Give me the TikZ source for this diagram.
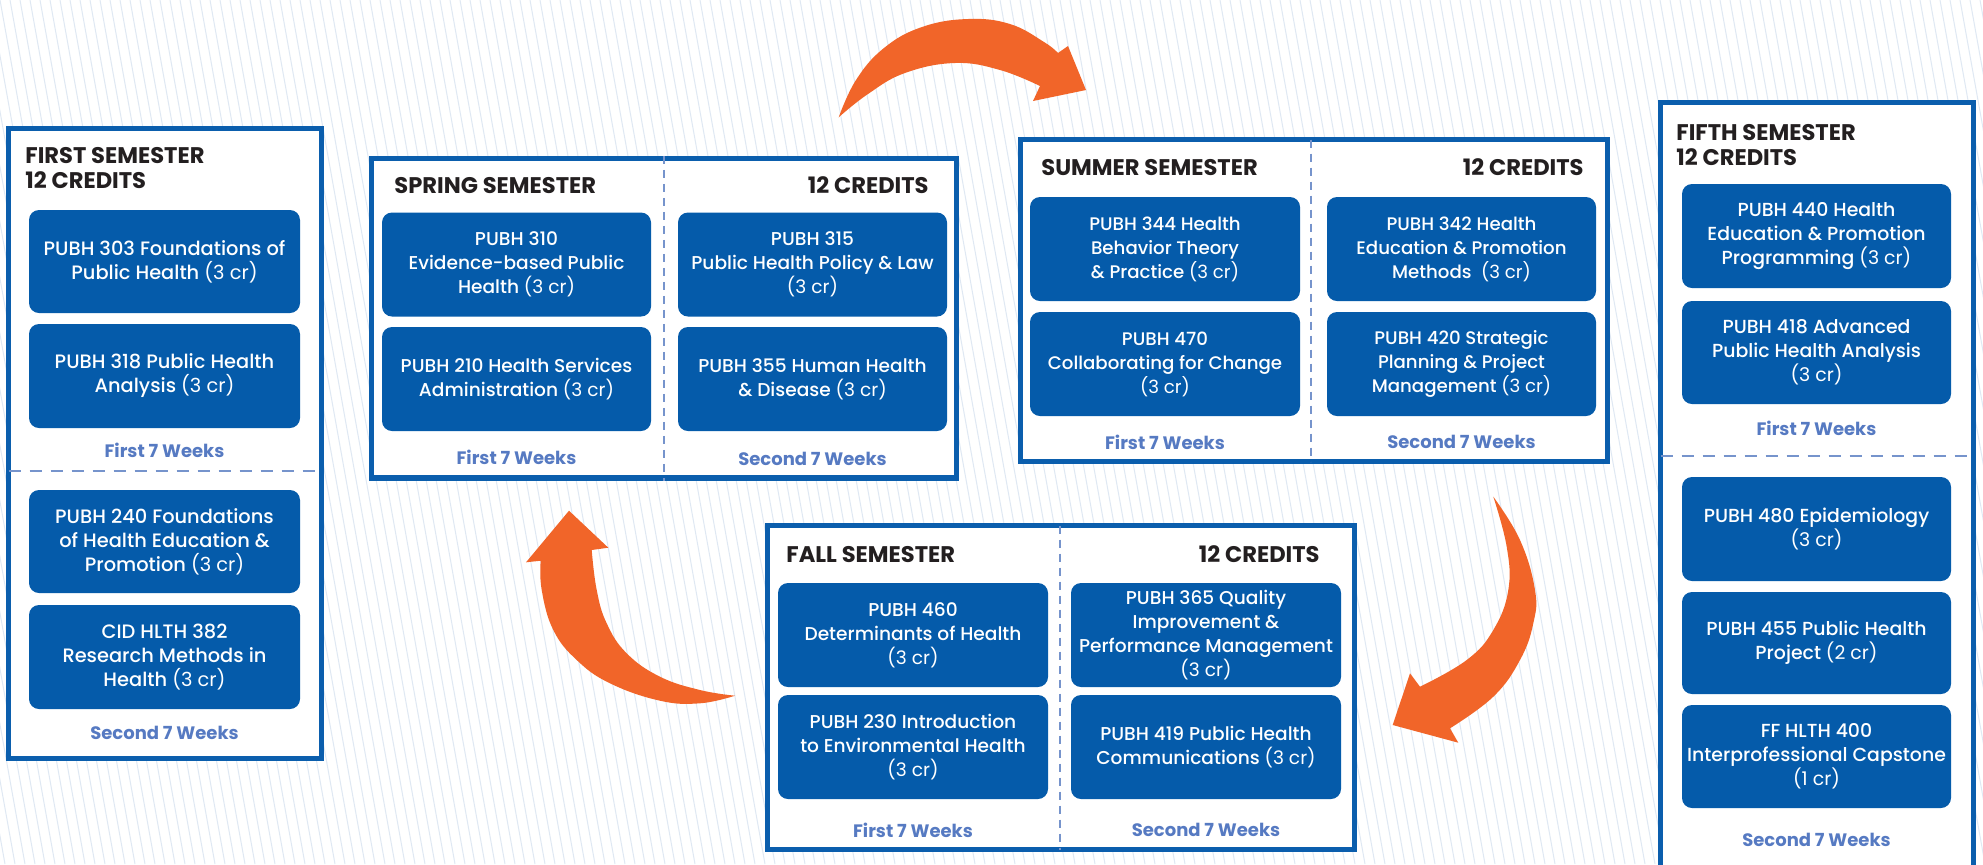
\documentclass[tikz,border=0pt]{standalone}
\usepackage{fontspec}
\setmainfont{Poppins}
\newfontfamily\medfont{Poppins Medium}
\newfontfamily\semifont{Poppins SemiBold}
\newfontfamily\regfont{Poppins}
\definecolor{boxblue}{RGB}{5,91,170}
\definecolor{frameblue}{RGB}{11,94,173}
\definecolor{weekblue}{RGB}{86,122,194}
\definecolor{dashblue}{RGB}{118,148,204}
\definecolor{titlec}{RGB}{35,31,32}
\definecolor{orangec}{RGB}{241,101,41}
\definecolor{stripec}{RGB}{223,232,243}
\newcommand\crd[1]{{\regfont(#1 cr)}}
\begin{document}
\begin{tikzpicture}[x=0.5pt,y=-0.5pt,
  stripe/.style={draw=stripec, line width=0.5pt},
  frame/.style={draw=frameblue, line width=2.6pt, fill=white, inner sep=0pt},
  course/.style={fill=boxblue, rounded corners=5pt, text=white, align=center, inner sep=0pt,
    font=\medfont\fontsize{9.3}{12}\selectfont},
  cfirst/.style={course, font=\medfont\fontsize{9.7}{12}\selectfont},
  csummer/.style={course, font=\medfont\fontsize{9.1}{12}\selectfont},
  cfifth/.style={course, font=\medfont\fontsize{9.45}{12}\selectfont},
  semtitle/.style={anchor=base west, inner sep=0pt, text=titlec, font=\bfseries\fontsize{11.3}{12}\selectfont},
  credit/.style={anchor=base east, inner sep=0pt, text=titlec, font=\bfseries\fontsize{11.3}{12}\selectfont},
  weeks/.style={inner sep=0pt, text=weekblue, font=\bfseries\fontsize{9}{10}\selectfont},
  vdiv/.style={draw=dashblue, line width=0.9pt, dash pattern=on 4pt off 3pt},
  hdiv/.style={draw=dashblue, line width=0.9pt, dash pattern=on 6pt off 4.5pt},
  arrowshape/.style={fill=orangec}
]
\clip (0,0) rectangle (1983,864);
\fill[white] (0,0) rectangle (1983,864);
\foreach \i in {-20,...,200} \draw[stripe] ({\i*10},0) -- ({\i*10+155},864);

% ---------- frames ----------
\node[frame, minimum width=156.5pt, minimum height=315pt] (first) at (165,443.5) {};
\node[frame, minimum width=292.5pt, minimum height=159.75pt] (spring) at (664,318.25) {};
\node[frame, minimum width=293.5pt, minimum height=161pt] (summer) at (1314,300.5) {};
\node[frame, minimum width=293.5pt, minimum height=162pt] (fall) at (1061,687.5) {};
\node[frame, minimum width=156.5pt, minimum height=408.75pt] (fifth) at (1817,511.25) {};

% ---------- dividers ----------
\coordinate (fdl) at (8.5,471);   \coordinate (fdr) at (321.5,471);
\draw[hdiv] (fdl) -- (fdr);
\draw[vdiv] (spring.north) -- (spring.south);
\coordinate (sdt) at (1311,139.5); \coordinate (sdb) at (1311,461.5);
\draw[vdiv] (sdt) -- (sdb);
\coordinate (adt) at (1060,525.5); \coordinate (adb) at (1060,849.5);
\draw[vdiv] (adt) -- (adb);
\coordinate (vdl) at (1660.5,456); \coordinate (vdr) at (1973.5,456);
\draw[hdiv] (vdl) -- (vdr);

% ---------- first semester ----------
\node[semtitle] (t1a) at (25,163) {FIRST SEMESTER};
\node[semtitle] (t1b) at (25,188) {12 CREDITS};
\node[cfirst, minimum width=135.5pt, minimum height=51.5pt] (c11) at (164.5,261.5) {PUBH 303 Foundations of\\Public Health \crd{3}};
\node[cfirst, minimum width=135.5pt, minimum height=52pt] (c12) at (164.5,376) {PUBH 318 Public Health\\Analysis \crd{3}};
\node[weeks] (w11) at (164.5,450) {First 7 Weeks};
\node[cfirst, minimum width=135.5pt, minimum height=51.5pt] (c13) at (164.5,541.5) {PUBH 240 Foundations\\of Health Education \&\\Promotion \crd{3}};
\node[cfirst, minimum width=135.5pt, minimum height=52pt] (c14) at (164.5,657) {CID HLTH 382\\Research Methods in\\Health \crd{3}};
\node[weeks] (w12) at (164.5,733) {Second 7 Weeks};

% ---------- spring ----------
\node[semtitle] (t2a) at (394,193) {SPRING SEMESTER};
\node[credit] (t2b) at (929,193) {12 CREDITS};
\node[course, minimum width=134.5pt, minimum height=52pt] (c21) at (516.5,264.5) {PUBH 310\\Evidence-based Public\\Health \crd{3}};
\node[course, minimum width=134.5pt, minimum height=52pt] (c22) at (516.5,379) {PUBH 210 Health Services\\Administration \crd{3}};
\node[course, minimum width=134.5pt, minimum height=52pt] (c23) at (812.5,264.5) {PUBH 315\\Public Health Policy \& Law\\\crd{3}};
\node[course, minimum width=134.5pt, minimum height=52pt] (c24) at (812.5,379) {PUBH 355 Human Health\\\& Disease \crd{3}};
\node[weeks] (w21) at (516.5,457) {First 7 Weeks};
\node[weeks] (w22) at (812.5,459) {Second 7 Weeks};

% ---------- summer ----------
\node[semtitle] (t3a) at (1041,175) {SUMMER SEMESTER};
\node[credit] (t3b) at (1584,175) {12 CREDITS};
\node[csummer, minimum width=135pt, minimum height=52pt] (c31) at (1165,249) {PUBH 344 Health\\Behavior Theory\\\& Practice \crd{3}};
\node[csummer, minimum width=135pt, minimum height=52pt] (c32) at (1165,364) {PUBH 470\\Collaborating for Change\\\crd{3}};
\node[csummer, minimum width=134.5pt, minimum height=52pt] (c33) at (1461.5,249) {PUBH 342 Health\\Education \& Promotion\\Methods\ \ \crd{3}};
\node[csummer, minimum width=134.5pt, minimum height=52pt] (c34) at (1461.5,364) {PUBH 420 Strategic\\Planning \& Project\\Management \crd{3}};
\node[weeks] (w31) at (1165,442) {First 7 Weeks};
\node[weeks] (w32) at (1461.5,442) {Second 7 Weeks};

% ---------- fall ----------
\node[semtitle] (t4a) at (786,562) {FALL SEMESTER};
\node[credit] (t4b) at (1320,562) {12 CREDITS};
\node[course, minimum width=135pt, minimum height=52pt] (c41) at (913,635) {PUBH 460\\Determinants of Health\\\crd{3}};
\node[course, minimum width=135pt, minimum height=52pt] (c42) at (913,747) {PUBH 230 Introduction\\to Environmental Health\\\crd{3}};
\node[course, minimum width=135pt, minimum height=52pt] (c43) at (1206,635) {PUBH 365 Quality\\Improvement \&\\Performance Management\\\crd{3}};
\node[course, minimum width=135pt, minimum height=52pt] (c44) at (1206,747) {PUBH 419 Public Health\\Communications \crd{3}};
\node[weeks] (w41) at (913,830) {First 7 Weeks};
\node[weeks] (w42) at (1206,830) {Second 7 Weeks};

% ---------- fifth ----------
\node[semtitle] (t5a) at (1676,140) {FIFTH SEMESTER};
\node[semtitle] (t5b) at (1676,165) {12 CREDITS};
\node[cfifth, minimum width=134.5pt, minimum height=52pt] (c51) at (1816.5,236) {PUBH 440 Health\\Education \& Promotion\\Programming \crd{3}};
\node[cfifth, minimum width=134.5pt, minimum height=51.5pt] (c52) at (1816.5,352.5) {PUBH 418 Advanced\\Public Health Analysis\\\crd{3}};
\node[weeks] (w51) at (1816.5,428) {First 7 Weeks};
\node[cfifth, minimum width=134.5pt, minimum height=52pt] (c53) at (1816.5,529) {PUBH 480 Epidemiology\\\crd{3}};
\node[cfifth, minimum width=134.5pt, minimum height=51pt] (c54) at (1816.5,643) {PUBH 455 Public Health\\Project \crd{2}};
\node[cfifth, minimum width=134.5pt, minimum height=51.5pt] (c55) at (1816.5,756.5) {FF HLTH 400\\Interprofessional Capstone\\\crd{1}};
\node[weeks] (w52) at (1816.5,840) {Second 7 Weeks};

% ---------- arrows ----------
% spring -> summer
\fill[arrowshape] plot[smooth, tension=0.7] coordinates {(838.7,117.3) (856,80) (884,48) (922,27) (968,19) (1010,24) (1044,42) (1058,53)}
  -- (1068,46) -- (1086,90) -- (1033,101) -- (1040,86)
  -- plot[smooth, tension=0.7] coordinates {(1040,86) (1000,70) (955,63) (905,73) (868,94) (838.7,117.3)} -- cycle;
% summer -> fall
\fill[arrowshape] plot[smooth, tension=0.7] coordinates {(1493.3,496.7) (1520,540) (1535,590) (1533.3,623.3) (1520,660) (1493.3,696.7) (1450,728.3)}
  -- (1458.3,742.7) -- (1392.7,725) -- (1410,673.3) -- (1420,686.7)
  -- plot[smooth, tension=0.7] coordinates {(1420,686.7) (1466.7,660) (1493.3,630) (1508.3,590) (1506.7,546.7) (1493.3,496.7)} -- cycle;
% fall -> spring
\fill[arrowshape] (569,510.7) -- (608.3,547.7) -- (591.7,550)
  -- plot[smooth, tension=0.7] coordinates {(591.7,550) (596.7,590) (606.7,623.3) (626.7,653.3) (660,676.7) (700,690) (735,695.7)}
  -- plot[smooth, tension=0.7] coordinates {(735,695.7) (700,703.3) (660,700.7) (610,683.3) (576.7,660) (553.3,630) (541.7,590) (540.7,560.7)}
  -- (526,562.3) -- cycle;
\end{tikzpicture}
\end{document}
